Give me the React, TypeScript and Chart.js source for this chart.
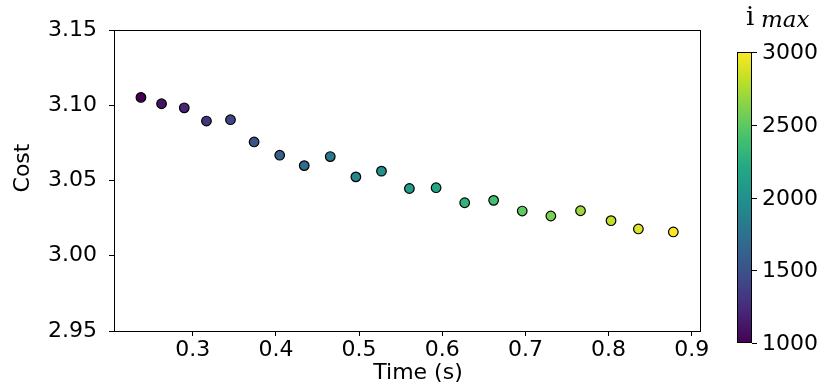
import React, { useEffect, useRef } from "react";
import { Chart, registerables } from "chart.js";

Chart.register(...registerables);

// ---- data ----
const times = [0.2376, 0.2624, 0.2897, 0.3164, 0.3453, 0.3737, 0.4045, 0.434, 0.4653, 0.4961, 0.5269, 0.5605, 0.5926, 0.627, 0.6618, 0.6962, 0.7306, 0.7663, 0.803, 0.8359, 0.8779];
const costs = [3.1052, 3.101, 3.0983, 3.0895, 3.0904, 3.0756, 3.0668, 3.0599, 3.0659, 3.0524, 3.0562, 3.0447, 3.0452, 3.0352, 3.0368, 3.0297, 3.0264, 3.0299, 3.0233, 3.0178, 3.0158];
const iMax = [1000, 1100, 1200, 1300, 1400, 1500, 1600, 1700, 1800, 1900, 2000, 2100, 2200, 2300, 2400, 2500, 2600, 2700, 2800, 2900, 3000];
const xTicks = [0.3, 0.4, 0.5, 0.6, 0.7, 0.8, 0.9];
const yTicks = [2.95, 3.0, 3.05, 3.1, 3.15];
const cbTicks = [1000, 1500, 2000, 2500, 3000];
const cbMin = 1000;
const cbMax = 3000;
const xLabel = "Time (s)";
const yLabel = "Cost";

// viridis colormap anchors
const viridis = ["#440154", "#482475", "#414487", "#355f8d", "#2a788e", "#21918c", "#22a884", "#44bf70", "#7ad151", "#bddf26", "#fde725"];

function hexToRgb(h: string) {
  return [parseInt(h.slice(1, 3), 16), parseInt(h.slice(3, 5), 16), parseInt(h.slice(5, 7), 16)];
}
function cmap(v: number) {
  let t = (v - cbMin) / (cbMax - cbMin);
  t = Math.max(0, Math.min(1, t));
  const f = t * (viridis.length - 1);
  const i = Math.min(Math.floor(f), viridis.length - 2);
  const r = f - i;
  const a = hexToRgb(viridis[i]);
  const b = hexToRgb(viridis[i + 1]);
  const c = a.map((x, k) => Math.round(x + (b[k] - x) * r));
  return `rgb(${c[0]},${c[1]},${c[2]})`;
}

const FONT = "'DejaVu Sans', sans-serif";
const FS = 22;

const extrasPlugin = {
  id: "extras",
  afterDraw(chart: any) {
    const ctx = chart.ctx;
    const ca = chart.chartArea;
    ctx.save();
    // box (spines)
    ctx.strokeStyle = "#000";
    ctx.lineWidth = 1;
    ctx.strokeRect(Math.round(ca.left) + 0.5, Math.round(ca.top) + 0.5, Math.round(ca.right - ca.left), Math.round(ca.bottom - ca.top));

    // axis titles
    ctx.fillStyle = "#000";
    ctx.font = `${FS}px ${FONT}`;
    ctx.textAlign = "center";
    ctx.textBaseline = "alphabetic";
    ctx.fillText(xLabel, 418, 379);
    ctx.save();
    ctx.translate(29, 168);
    ctx.rotate(-Math.PI / 2);
    ctx.fillText(yLabel, 0, 0);
    ctx.restore();

    // colorbar
    const cbL = 737, cbR = 752, cbT = 52, cbB = 343;
    const g = ctx.createLinearGradient(0, cbB, 0, cbT);
    viridis.forEach((c, k) => g.addColorStop(k / (viridis.length - 1), c));
    ctx.fillStyle = g;
    ctx.fillRect(cbL, cbT, cbR - cbL, cbB - cbT);
    ctx.strokeStyle = "#000";
    ctx.lineWidth = 1;
    ctx.strokeRect(cbL + 0.5, cbT + 0.5, cbR - cbL - 1, cbB - cbT - 1);
    ctx.fillStyle = "#000";
    ctx.font = `${FS}px ${FONT}`;
    ctx.textAlign = "left";
    ctx.textBaseline = "middle";
    cbTicks.forEach((v) => {
      const y = Math.round(cbB - (v - cbMin) / (cbMax - cbMin) * (cbB - cbT)) + 0.5;
      ctx.beginPath();
      ctx.moveTo(cbR, y);
      ctx.lineTo(cbR + 5, y);
      ctx.stroke();
      ctx.fillText(String(v), cbR + 10, y + 1);
    });

    // colorbar label i_max
    ctx.textBaseline = "alphabetic";
    ctx.font = `26px 'DejaVu Serif', serif`;
    ctx.fillText("i", 746, 25);
    ctx.font = `italic 23px 'DejaVu Serif', serif`;
    ctx.fillText("max", 761, 27);
    ctx.restore();
  },
};

export default function App() {
  const ref = useRef<HTMLCanvasElement>(null);
  useEffect(() => {
    if (!ref.current) return;
    const pts = times.map((t, i) => ({ x: t, y: costs[i] }));
    const chart = new Chart(ref.current, {
      type: "scatter",
      data: {
        datasets: [
          {
            data: pts,
            backgroundColor: iMax.map(cmap),
            borderColor: "#000",
            borderWidth: 1.2,
            pointRadius: 4.8,
            pointHoverRadius: 4.8,
          },
        ],
      },
      options: {
        animation: false,
        responsive: false,
        devicePixelRatio: 1,
        layout: { padding: { left: 0, top: 30, right: 128, bottom: 0 } },
        plugins: { legend: { display: false }, tooltip: { enabled: false } },
        scales: {
          x: {
            type: "linear",
            min: 0.2052,
            max: 0.91,
            afterBuildTicks: (s: any) => {
              s.ticks = xTicks.map((v) => ({ value: v }));
            },
            afterFit: (s: any) => {
              s.height = 57;
            },
            ticks: {
              color: "#000",
              font: { family: FONT, size: FS },
              padding: 1,
              maxRotation: 0,
              autoSkip: false,
              callback: (v: any) => Number(v).toFixed(1),
            },
            grid: { display: true, drawOnChartArea: false, drawTicks: true, tickLength: 5, color: "#000" },
            border: { display: true, color: "#000", width: 1 },
          },
          y: {
            type: "linear",
            min: 2.95,
            max: 3.15,
            afterBuildTicks: (s: any) => {
              s.ticks = yTicks.map((v) => ({ value: v }));
            },
            afterFit: (s: any) => {
              s.width = 114;
            },
            ticks: {
              color: "#000",
              font: { family: FONT, size: FS },
              padding: 12,
              autoSkip: false,
              callback: (v: any) => Number(v).toFixed(2),
            },
            grid: { display: true, drawOnChartArea: false, drawTicks: true, tickLength: 5, color: "#000" },
            border: { display: true, color: "#000", width: 1 },
          },
        },
      },
      plugins: [extrasPlugin],
    });
    return () => chart.destroy();
  }, []);
  return (
    <div style={{ position: "fixed", left: 0, top: 0, width: 828, height: 388, background: "#fff" }}>
      <canvas ref={ref} width={828} height={388} />
    </div>
  );
}
